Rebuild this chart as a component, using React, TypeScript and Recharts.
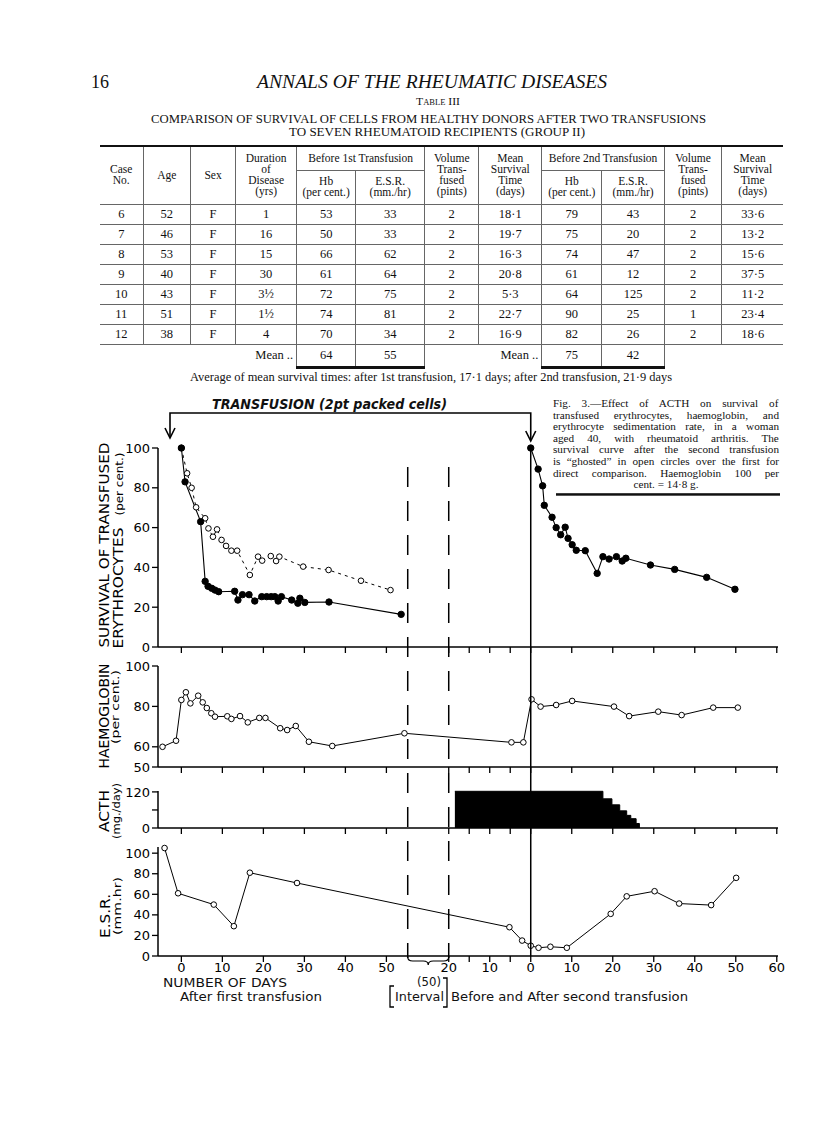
import React from 'react';
import { ComposedChart, Line, Area, XAxis, YAxis } from 'recharts';

// x axis: days after the 1st transfusion are plotted as they are, days around
// the 2nd transfusion are shifted to SECOND_ORIGIN (the 50 day interval is cut out)
const SECOND_ORIGIN = 85.2;
const INTERVAL_START = 55.2;
const X_MIN = -5.7;
const X_MAX = 145.5;

const firstDayTicks = [0, 10, 20, 30, 40, 50];
const secondDayTicks = [-20, -15, -10, -5, 0, 10, 20, 30, 40, 50, 60];
const unlabelledSecondTicks = [-15, -5];

// survival of transfused erythrocytes (per cent.)
const survivalFirstDays = [0, 0.9, 4.7, 5.8, 6.5, 7.4, 8.2, 9.1, 13.0, 13.8, 14.9, 16.5, 17.9, 19.6, 20.8, 21.9, 22.8, 23.6, 24.4, 26.9, 28.4, 28.9, 30.1, 36.0, 53.6];
const survivalFirstPct = [100, 83, 63, 33, 30.5, 29.5, 28.6, 27.8, 28, 23.6, 26.3, 26.3, 23.1, 25.3, 25.3, 25.3, 25.3, 23.1, 25.3, 23.6, 22, 24.5, 22.4, 22.6, 16.4];
// second curve "ghosted" over the first one (open circles, dashed)
const ghostDays = [0, 1.4, 2.5, 3.6, 5.8, 6.6, 7.7, 8.7, 9.8, 10.9, 12.2, 13.6, 16.7, 18.7, 19.7, 21.8, 23.1, 23.9, 29.7, 35.9, 43.8, 51.0];
const ghostPct = [100, 87.3, 80, 70.2, 64.7, 59.6, 55.4, 59.1, 53.8, 50.8, 48.4, 48.4, 36.2, 45.4, 43.4, 45.7, 43.2, 45.4, 40.4, 38.7, 33.3, 28.6];
const survivalSecondDays = [0, 1.8, 2.9, 3.3, 5.2, 6.2, 7.3, 8.4, 9.1, 10.1, 11.1, 13.3, 16.2, 17.6, 19.1, 20.9, 22.3, 23.2, 29.2, 35.1, 42.9, 49.8];
const survivalSecondPct = [100, 89.4, 81, 71.2, 65.2, 60, 56.4, 60.2, 54.6, 51.4, 48.6, 48.4, 37, 45.4, 44.2, 45.4, 43.2, 44.6, 41.2, 39, 35, 29];

// haemoglobin (per cent.)
const hbFirstDays = [-4.6, -1.3, 0, 1.1, 2.2, 4.1, 5.2, 6.2, 7.3, 8.2, 11.2, 12.2, 14.3, 16.2, 19.0, 20.5, 24.1, 25.8, 27.9, 31.1, 36.8, 54.4];
const hbFirstPct = [60, 63, 83.2, 87, 81.5, 85.3, 82, 79.2, 76.6, 74.9, 75.1, 73.8, 75.2, 72.1, 74.3, 74.3, 69.2, 68.3, 70.3, 62.5, 60.4, 66.7];
const hbSecondDays = [-4.7, -1.8, 0.2, 2.4, 6.2, 10.1, 20.3, 24.0, 31.1, 36.8, 44.5, 50.5];
const hbSecondPct = [62.2, 62.2, 83.5, 79.9, 80.7, 82.7, 79.9, 75.2, 77.4, 75.7, 79.4, 79.4];

// ACTH (mg./day), days relative to the 2nd transfusion
const acthDays = [-18.5, 17.6, 19.8, 21.7, 23.4, 24.4, 25.7, 26.5];
const acthDose = [122, 97, 77, 57, 42, 31, 15, 0];

// E.S.R. (mm./hr)
const esrFirstDays = [-4.1, -0.8, 7.9, 12.8, 16.7, 28.2];
const esrFirstVal = [105, 61, 50, 29, 81, 71];
const esrSecondDays = [-5.2, -2.1, 0, 1.9, 4.8, 8.8, 19.5, 23.4, 30.2, 36.2, 44.0, 50.1];
const esrSecondVal = [28, 15, 10, 8, 9, 8, 41, 58, 63, 51, 49.5, 76];

const survivalTicks = [0, 20, 40, 60, 80, 100];
const hbTicks = [50, 60, 80, 100];
const acthTicks = [0, 60, 120];
const esrTicks = [0, 20, 40, 60, 80, 100];

// Table III
const tableCase = ['6', '7', '8', '9', '10', '11', '12'];
const tableAge = ['52', '46', '53', '40', '43', '51', '38'];
const tableSex = ['F', 'F', 'F', 'F', 'F', 'F', 'F'];
const tableDuration = ['1', '16', '15', '30', '3½', '1½', '4'];
const tableHb1 = ['53', '50', '66', '61', '72', '74', '70'];
const tableEsr1 = ['33', '33', '62', '64', '75', '81', '34'];
const tableVol1 = ['2', '2', '2', '2', '2', '2', '2'];
const tableMean1 = ['18·1', '19·7', '16·3', '20·8', '5·3', '22·7', '16·9'];
const tableHb2 = ['79', '75', '74', '61', '64', '90', '82'];
const tableEsr2 = ['43', '20', '47', '12', '125', '25', '26'];
const tableVol2 = ['2', '2', '2', '2', '2', '1', '2'];
const tableMean2 = ['33·6', '13·2', '15·6', '37·5', '11·2', '23·4', '18·6'];
const tableMeans = ['64', '55', '75', '42'];

const captionLines = [
  'Fig. 3.—Effect of ACTH on survival of',
  'transfused erythrocytes, haemoglobin, and',
  'erythrocyte sedimentation rate, in a woman',
  'aged 40, with rheumatoid arthritis. The',
  'survival curve after the second transfusion',
  'is \u201cghosted\u201d in open circles over the first for',
  'direct comparison. Haemoglobin 100 per',
];
const captionLast = 'cent. = 14·8 g.';

const PAGE_W = 816;
const PLOT_LEFT = 158;
const PLOT_RIGHT = 778;
const Y_AXIS_W = 40;
const PANEL_PAD = 8;
const SANS = 'DejaVu Sans';
const SERIF = 'Liberation Serif';

const toPoints = (days: number[], vals: number[], shift: number) =>
  days.map((d, i) => ({ u: d + shift, v: vals[i] }));

const survivalFirst = toPoints(survivalFirstDays, survivalFirstPct, 0);
const ghost = toPoints(ghostDays, ghostPct, 0);
const survivalSecond = toPoints(survivalSecondDays, survivalSecondPct, SECOND_ORIGIN);
const hb = [...toPoints(hbFirstDays, hbFirstPct, 0), ...toPoints(hbSecondDays, hbSecondPct, SECOND_ORIGIN)];
const acth = toPoints(acthDays, acthDose, SECOND_ORIGIN);
const esr = [...toPoints(esrFirstDays, esrFirstVal, 0), ...toPoints(esrSecondDays, esrSecondVal, SECOND_ORIGIN)];

const xTicks = [...firstDayTicks, ...secondDayTicks.map((d) => SECOND_ORIGIN + d)];
const xTickLabel = (u: number) => {
  if (u < INTERVAL_START) return String(Math.round(u));
  const d = Math.round(u - SECOND_ORIGIN);
  if (unlabelledSecondTicks.includes(d)) return '';
  return String(Math.abs(d));
};

// only used for the annotations drawn over the charts
const xOf = (u: number) => PLOT_LEFT + ((u - X_MIN) / (X_MAX - X_MIN)) * (PLOT_RIGHT - PLOT_LEFT);

// text width, used to justify the legend lines with word spacing
let measureCtx: CanvasRenderingContext2D | null = null;
const measureText = (text: string, font: string) => {
  if (!measureCtx) measureCtx = document.createElement('canvas').getContext('2d');
  if (!measureCtx) return 0;
  measureCtx.font = font;
  return measureCtx.measureText(text).width;
};

const filledDot = { r: 3.2, fill: '#000', stroke: '#000', strokeWidth: 1, strokeDasharray: 'none' };
const openDot = { r: 2.8, fill: '#fff', stroke: '#000', strokeWidth: 1, strokeDasharray: 'none' };
const axisStroke = { stroke: '#000', strokeWidth: 1.5 };
const tickFont = { fill: '#000', fontSize: 13, fontFamily: SANS };

type PanelProps = {
  top: number;
  plotHeight: number;
  axisHeight: number;
  yDomain: [number, number];
  yTicks: number[];
  yTickLabel?: (v: number) => string;
  xLabels?: boolean;
  children: React.ReactNode;
};

function Panel({ top, plotHeight, axisHeight, yDomain, yTicks, yTickLabel, xLabels, children }: PanelProps) {
  const height = PANEL_PAD + plotHeight + axisHeight;
  return (
    <div style={{ position: 'absolute', left: 0, top: top - PANEL_PAD }}>
      <ComposedChart
        width={PAGE_W}
        height={height}
        margin={{ top: PANEL_PAD, right: PAGE_W - PLOT_RIGHT, bottom: 0, left: PLOT_LEFT - Y_AXIS_W }}
      >
        <XAxis
          type="number"
          dataKey="u"
          domain={[X_MIN, X_MAX]}
          ticks={xTicks}
          interval={0}
          height={axisHeight}
          tickSize={6}
          tickMargin={xLabels ? 1 : 0}
          tickFormatter={xLabels ? xTickLabel : () => ''}
          axisLine={axisStroke}
          tickLine={{ stroke: '#000', strokeWidth: 1.3 }}
          tick={tickFont}
        />
        <YAxis
          type="number"
          dataKey="v"
          domain={yDomain}
          ticks={yTicks}
          interval={0}
          width={Y_AXIS_W}
          tickSize={6}
          tickMargin={2}
          tickFormatter={yTickLabel ?? ((v: number) => String(v))}
          axisLine={axisStroke}
          tickLine={{ stroke: '#000', strokeWidth: 1.3 }}
          tick={tickFont}
        />
        {children}
      </ComposedChart>
    </div>
  );
}

function VText({ x, y, len, size, children }: { x: number; y: number; len: number; size: number; children: string }) {
  return (
    <text
      x={x}
      y={y}
      transform={`rotate(-90 ${x} ${y})`}
      textAnchor="middle"
      dominantBaseline="central"
      textLength={len}
      lengthAdjust="spacingAndGlyphs"
      fontSize={size}
      fontFamily={SANS}
      fill="#000"
    >
      {children}
    </text>
  );
}

function HText(props: {
  x: number; y: number; len?: number; size: number; family?: string; italic?: boolean;
  bold?: boolean; anchor?: 'start' | 'middle' | 'end'; smallCaps?: boolean; wordSpacing?: number; children: string;
}) {
  const { x, y, len, size, family = SERIF, italic, bold, anchor = 'start', smallCaps, wordSpacing, children } = props;
  const style: React.CSSProperties = {};
  if (smallCaps) style.fontVariant = 'small-caps';
  if (wordSpacing) style.wordSpacing = `${wordSpacing}px`;
  return (
    <text
      x={x}
      y={y}
      textAnchor={anchor}
      textLength={len}
      lengthAdjust={len ? 'spacingAndGlyphs' : undefined}
      fontSize={size}
      fontFamily={family}
      fontStyle={italic ? 'italic' : 'normal'}
      fontWeight={bold ? 'bold' : 'normal'}
      style={style}
      fill="#111"
    >
      {children}
    </text>
  );
}

const colWidths = [43, 47.5, 45, 61, 59, 69, 54, 63, 60, 62.5, 57.5, 61];
const rule = '1px solid #666';

function Table() {
  const th: React.CSSProperties = {
    fontWeight: 'normal', fontSize: 11.5, lineHeight: '11px', padding: 0,
    textAlign: 'center', verticalAlign: 'middle', borderRight: rule, borderBottom: rule,
  };
  const td: React.CSSProperties = {
    fontSize: 12.5, lineHeight: '16px', padding: 0, textAlign: 'center', borderRight: rule, borderBottom: rule,
  };
  const last = (i: number, base: React.CSSProperties) => (i === 11 ? { ...base, borderRight: 'none' } : base);
  const rows = tableCase.map((c, i) => [
    c, tableAge[i], tableSex[i], tableDuration[i], tableHb1[i], tableEsr1[i], tableVol1[i],
    tableMean1[i], tableHb2[i], tableEsr2[i], tableVol2[i], tableMean2[i],
  ]);
  const blank: React.CSSProperties = { border: 'none', padding: 0 };
  const meanLabel: React.CSSProperties = { ...blank, fontSize: 12.5, textAlign: 'right', verticalAlign: 'middle', paddingRight: 3 };
  const meanVal: React.CSSProperties = {
    fontSize: 12.5, textAlign: 'center', verticalAlign: 'middle', padding: 0,
    borderLeft: rule, borderRight: rule, borderTop: 'none', borderBottom: '3px solid #111',
  };
  return (
    <table
      style={{
        position: 'absolute', left: 100, top: 145, width: 683, tableLayout: 'fixed',
        borderCollapse: 'collapse', borderTop: '2.5px solid #111', fontFamily: SERIF, color: '#111',
      }}
    >
      <colgroup>
        {colWidths.map((w, i) => <col key={i} style={{ width: w }} />)}
      </colgroup>
      <thead>
        <tr style={{ height: 24 }}>
          <th rowSpan={2} style={th}>Case<br />No.</th>
          <th rowSpan={2} style={th}>Age</th>
          <th rowSpan={2} style={th}>Sex</th>
          <th rowSpan={2} style={th}>Duration<br />of<br />Disease<br />(yrs)</th>
          <th colSpan={2} style={th}>Before 1st Transfusion</th>
          <th rowSpan={2} style={th}>Volume<br />Trans-<br />fused<br />(pints)</th>
          <th rowSpan={2} style={th}>Mean<br />Survival<br />Time<br />(days)</th>
          <th colSpan={2} style={th}>Before 2nd Transfusion</th>
          <th rowSpan={2} style={th}>Volume<br />Trans-<br />fused<br />(pints)</th>
          <th rowSpan={2} style={last(11, th)}>Mean<br />Survival<br />Time<br />(days)</th>
        </tr>
        <tr style={{ height: 34 }}>
          <th style={th}>Hb<br />(per cent.)</th>
          <th style={th}>E.S.R.<br />(mm./hr)</th>
          <th style={th}>Hb<br />(per cent.)</th>
          <th style={th}>E.S.R.<br />(mm./hr)</th>
        </tr>
      </thead>
      <tbody>
        {rows.map((r, ri) => (
          <tr key={ri} style={{ height: 20 }}>
            {r.map((cell, ci) => (
              <td key={ci} style={last(ci, td)}>{cell}</td>
            ))}
          </tr>
        ))}
        <tr style={{ height: 23 }}>
          <td style={blank} />
          <td style={blank} />
          <td style={blank} />
          <td style={meanLabel}>Mean ..</td>
          <td style={meanVal}>{tableMeans[0]}</td>
          <td style={meanVal}>{tableMeans[1]}</td>
          <td style={blank} />
          <td style={meanLabel}>Mean ..</td>
          <td style={meanVal}>{tableMeans[2]}</td>
          <td style={meanVal}>{tableMeans[3]}</td>
          <td style={blank} />
          <td style={blank} />
        </tr>
      </tbody>
    </table>
  );
}

const CAPTION_X = 553;
const CAPTION_W = 226;
const CAPTION_SIZE = 11.2;
const CAPTION_LEAD = 11.6;
const CAPTION_Y = 407;

function Caption() {
  const font = `${CAPTION_SIZE}px "${SERIF}"`;
  return (
    <g>
      {captionLines.map((t, i) => {
        const spaces = t.split(' ').length - 1;
        const natural = measureText(t, font);
        const gap = natural > 0 && natural < CAPTION_W && spaces > 0 ? (CAPTION_W - natural) / spaces : 0;
        return (
          <HText
            key={i}
            x={CAPTION_X}
            y={CAPTION_Y + i * CAPTION_LEAD}
            size={CAPTION_SIZE}
            wordSpacing={gap}
            len={natural >= CAPTION_W ? CAPTION_W : undefined}
          >
            {t}
          </HText>
        );
      })}
      <HText x={CAPTION_X + CAPTION_W / 2} y={CAPTION_Y + 7 * CAPTION_LEAD} size={CAPTION_SIZE} anchor="middle">
        {captionLast}
      </HText>
      <rect x={556} y={CAPTION_Y + 7 * CAPTION_LEAD + 5} width={224} height={2.5} fill="#111" />
    </g>
  );
}

function Overlay() {
  const xDash1 = xOf(INTERVAL_START);
  const xDash2 = xOf(SECOND_ORIGIN - 20);
  const xSecond = xOf(SECOND_ORIGIN);
  const xArrow1 = 170;
  return (
    <svg
      width={PAGE_W}
      height={1125}
      style={{ position: 'absolute', left: 0, top: 0, pointerEvents: 'none', zIndex: 2 }}
    >
      {/* page heading and table titles */}
      <HText x={91} y={88} size={18}>16</HText>
      <HText x={257} y={88} len={350} size={18} italic>ANNALS OF THE RHEUMATIC DISEASES</HText>
      <HText x={438} y={105} len={44} size={11} anchor="middle" smallCaps>Table III</HText>
      <HText x={151} y={123} len={555} size={12}>COMPARISON OF SURVIVAL OF CELLS FROM HEALTHY DONORS AFTER TWO TRANSFUSIONS</HText>
      <HText x={289} y={136} len={296} size={12}>TO SEVEN RHEUMATOID RECIPIENTS (GROUP II)</HText>
      <HText x={190} y={381} len={482} size={11.5}>
        Average of mean survival times: after 1st transfusion, 17·1 days; after 2nd transfusion, 21·9 days
      </HText>

      <Caption />

      {/* transfusion bracket */}
      <HText x={212} y={409} len={235} size={14} family={SANS} italic bold>TRANSFUSION (2pt packed cells)</HText>
      <path d={`M${xArrow1},437 V413 H${xSecond} V440`} fill="none" stroke="#000" strokeWidth={1.6} />
      <path d={`M${xArrow1 - 5},428 L${xArrow1},438 L${xArrow1 + 5},428`} fill="none" stroke="#000" strokeWidth={1.6} />
      <path d={`M${xSecond - 5},431 L${xSecond},441 L${xSecond + 5},431`} fill="none" stroke="#000" strokeWidth={1.6} />

      {/* interval and 2nd transfusion markers */}
      <line x1={xDash1} x2={xDash1} y1={467} y2={958} stroke="#000" strokeWidth={1.5} strokeDasharray="20 14" />
      <line x1={xDash2} x2={xDash2} y1={467} y2={958} stroke="#000" strokeWidth={1.5} strokeDasharray="20 14" />
      <line x1={xSecond} x2={xSecond} y1={446} y2={956} stroke="#000" strokeWidth={1.5} />
      <path
        d={`M${xDash1},957 q0,4 5,4 h${(xDash2 - xDash1) / 2 - 10} q5,0 5,4 q0,-4 5,-4 h${(xDash2 - xDash1) / 2 - 10} q5,0 5,-4`}
        fill="none"
        stroke="#000"
        strokeWidth={1.2}
      />

      {/* y axis titles */}
      <VText x={104} y={545} len={205} size={14}>SURVIVAL OF TRANSFUSED</VText>
      <VText x={118} y={588} len={121} size={14}>ERYTHROCYTES</VText>
      <VText x={119} y={484} len={63} size={11}>(per cent.)</VText>
      <VText x={104} y={716} len={105} size={14}>HAEMOGLOBIN</VText>
      <VText x={115} y={707} len={74} size={11}>(per cent.)</VText>
      <VText x={104} y={811} len={42} size={14}>ACTH</VText>
      <VText x={116} y={811} len={56} size={11}>(mg./day)</VText>
      <VText x={105} y={916} len={44} size={14}>E.S.R.</VText>
      <VText x={117} y={906} len={58} size={11}>(mm.hr)</VText>

      {/* x axis titles */}
      <HText x={163} y={987} len={124} size={13} family={SANS}>NUMBER OF DAYS</HText>
      <HText x={180} y={1001} len={142} size={13} family={SANS}>After first transfusion</HText>
      <HText x={417} y={986} len={24} size={13} family={SANS}>(50)</HText>
      <HText x={395} y={1001} len={49} size={13} family={SANS}>Interval</HText>
      <path d="M394,986 H390 V1007 H394" fill="none" stroke="#000" strokeWidth={1.3} />
      <path d="M443,978 H447 V1007 H443" fill="none" stroke="#000" strokeWidth={1.3} />
      <HText x={451} y={1001} len={237} size={13} family={SANS}>Before and After second transfusion</HText>
    </svg>
  );
}

export default function App() {
  return (
    <div style={{ position: 'relative', width: PAGE_W, height: 1125, background: '#fff', overflow: 'hidden' }}>
      <style>{'body{margin:0;background:#fff}'}</style>
      <Table />

      <Panel top={448} plotHeight={199} axisHeight={14} yDomain={[0, 100]} yTicks={survivalTicks}>
        <Line data={ghost} dataKey="v" type="linear" stroke="#000" strokeWidth={1} strokeDasharray="3 4" dot={openDot} activeDot={false} isAnimationActive={false} />
        <Line data={survivalFirst} dataKey="v" type="linear" stroke="#000" strokeWidth={1.1} dot={filledDot} activeDot={false} isAnimationActive={false} />
        <Line data={survivalSecond} dataKey="v" type="linear" stroke="#000" strokeWidth={1.1} dot={filledDot} activeDot={false} isAnimationActive={false} />
      </Panel>

      <Panel top={666} plotHeight={101} axisHeight={14} yDomain={[50, 100]} yTicks={hbTicks}>
        <Line data={hb} dataKey="v" type="linear" stroke="#000" strokeWidth={1} dot={openDot} activeDot={false} isAnimationActive={false} />
      </Panel>

      <Panel
        top={791}
        plotHeight={37}
        axisHeight={14}
        yDomain={[0, 123]}
        yTicks={acthTicks}
        yTickLabel={(v: number) => (v === 60 ? '' : String(v))}
      >
        <Area data={acth} dataKey="v" type="stepAfter" stroke="#000" strokeWidth={1} fill="#000" fillOpacity={1} baseValue={0} dot={false} activeDot={false} isAnimationActive={false} />
      </Panel>

      <Panel top={847} plotHeight={109} axisHeight={26} yDomain={[0, 106]} yTicks={esrTicks} xLabels>
        <Line data={esr} dataKey="v" type="linear" stroke="#000" strokeWidth={1} dot={openDot} activeDot={false} isAnimationActive={false} />
      </Panel>

      <Overlay />
    </div>
  );
}
